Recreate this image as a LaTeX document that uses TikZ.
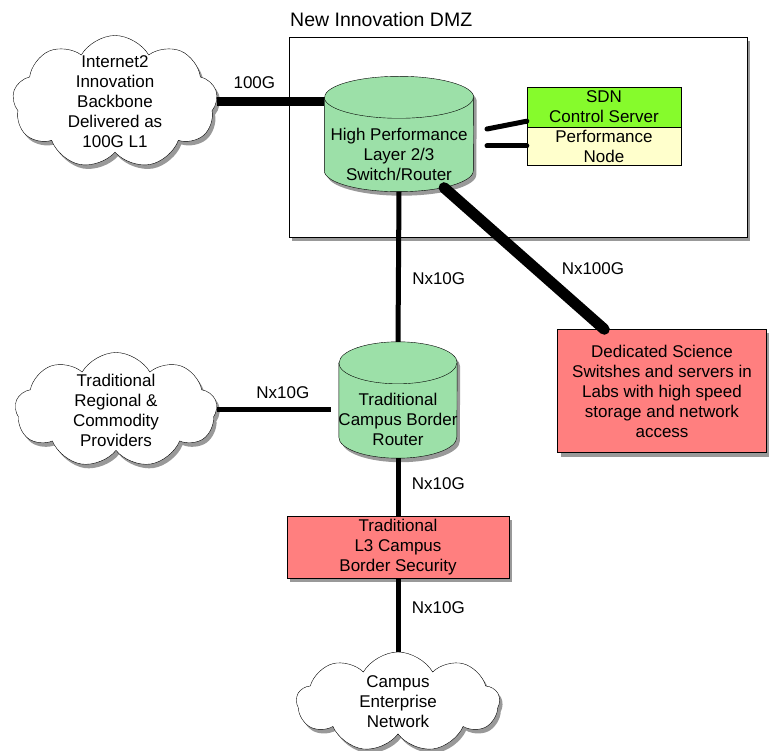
\documentclass[tikz,border=0pt]{standalone}
\usepackage{fontspec}
\setmainfont{Liberation Sans}
\usetikzlibrary{shapes.symbols,shadows}
\definecolor{routergreen}{HTML}{9CE0A8}
\definecolor{sdngreen}{HTML}{86FB2C}
\definecolor{perfyellow}{HTML}{FFFFCC}
\definecolor{labred}{HTML}{FF7F7F}
\tikzset{
  shadowed/.style={drop shadow={shadow xshift=3pt,shadow yshift=-4pt,fill=black,opacity=0.4}},
  netcloud/.style={cloud,cloud puffs=9,cloud puff arc=120,aspect=1.75,draw,fill=white,shadowed,inner sep=0pt},
  routerbody/.style={fill=routergreen,draw,shadowed},
  redbox/.style={rectangle,draw,fill=labred,shadowed,align=center,inner sep=0pt},
  link/.style={line width=5pt},
  fatlink/.style={line width=9pt},
  hugelink/.style={line width=11pt,line cap=round}
}
\begin{document}
\begin{tikzpicture}[x=1pt,y=-1pt,font=\fontsize{17}{20}\selectfont]
  \useasboundingbox (0,0) rectangle (769,751);
  % innovation dmz
  \node[anchor=base west,inner sep=0pt,font=\fontsize{19.5}{22}\selectfont] (dmztitle) at (290,27) {New Innovation DMZ};
  \node[draw,fill=white,shadowed,minimum width=458pt,minimum height=200pt] (dmz) at (518,137) {};

  % clouds
  \node[netcloud,minimum width=205pt,minimum height=133pt] (i2) at (115,102) {};
  \node[align=center] (i2text) at (i2.center) {Internet2\\Innovation\\Backbone\\Delivered as\\100G L1};
  \node[netcloud,minimum width=202pt,minimum height=115pt] (regional) at (116,410) {};
  \node[align=center] (regionaltext) at (regional.center) {Traditional\\Regional \&\\Commodity\\Providers};
  \node[netcloud,minimum width=203pt,minimum height=100pt] (campus) at (398,702) {};
  \node[align=center] (campustext) at (campus.center) {Campus\\Enterprise\\Network};

  % routers (cylinders)
  \node[minimum width=149pt,minimum height=115pt,inner sep=0pt] (hpr) at (399,134) {};
  \filldraw[routerbody] ([yshift=-21pt]hpr.north west) -- ([yshift=21pt]hpr.south west)
    arc[start angle=180,end angle=360,x radius=74.5pt,y radius=21pt]
    -- ([yshift=-21pt]hpr.north east)
    arc[start angle=0,end angle=180,x radius=74.5pt,y radius=21pt] -- cycle;
  \draw ([yshift=-21pt]hpr.north west) arc[start angle=180,end angle=360,x radius=74.5pt,y radius=21pt];
  \node[align=center] (hprtext) at ([yshift=-20pt]hpr.center) {High Performance\\Layer 2/3\\Switch/Router};

  \node[minimum width=118pt,minimum height=116pt,inner sep=0pt] (tcbr) at (398,400) {};
  \filldraw[routerbody] ([yshift=-21pt]tcbr.north west) -- ([yshift=21pt]tcbr.south west)
    arc[start angle=180,end angle=360,x radius=59pt,y radius=21pt]
    -- ([yshift=-21pt]tcbr.north east)
    arc[start angle=0,end angle=180,x radius=59pt,y radius=21pt] -- cycle;
  \draw ([yshift=-21pt]tcbr.north west) arc[start angle=180,end angle=360,x radius=59pt,y radius=21pt];
  \node[align=center] (tcbrtext) at ([yshift=-19pt]tcbr.center) {Traditional\\Campus Border\\Router};

  % boxes
  \node[rectangle,draw,fill=sdngreen,minimum width=154pt,minimum height=40pt,align=center,inner sep=0pt] (sdn) at (604,107) {SDN\\Control Server};
  \node[rectangle,draw,fill=perfyellow,minimum width=154pt,minimum height=38pt,align=center,inner sep=0pt,anchor=north] (perf) at (sdn.south) {Performance\\Node};
  \node[redbox,minimum width=209pt,minimum height=123pt] (sci) at (662,391) {Dedicated Science\\Switshes and servers in\\Labs with high speed\\storage and network\\access};
  \node[redbox,minimum width=222pt,minimum height=62pt] (sec) at (398,547) {Traditional\\L3 Campus\\Border Security};

  % links
  \draw[fatlink] (i2.east) -- (i2.east -| hpr.west) node[pos=0.35,above=5pt] {100G};
  \coordinate (sdnin) at (487,129);
  \coordinate (perfin) at (487,146);
  \draw[link,line cap=round] (sdnin) -- ([yshift=6pt]sdn.south west);
  \draw[link,line cap=round] (perfin) -- (perfin -| perf.west);
  \draw[link] (hpr.south) -- (tcbr.north) node[pos=0.58,right=8pt] {Nx10G};
  \draw[hugelink] ([yshift=4pt]hpr.-52) -- ([xshift=47pt]sci.north west) node[pos=0.75,anchor=south west,inner sep=0pt,xshift=-8pt,yshift=14pt] {Nx100G};
  \draw[link] (regional.east) -- ([xshift=-8pt]regional.east -| tcbr.west) node[pos=0.58,above=6pt] {Nx10G};
  \draw[link] (tcbr.south) -- (sec.north) node[pos=0.45,right=8pt] {Nx10G};
  \draw[link] (sec.south) -- (campus.north) node[pos=0.4,right=8pt] {Nx10G};
\end{tikzpicture}
\end{document}
